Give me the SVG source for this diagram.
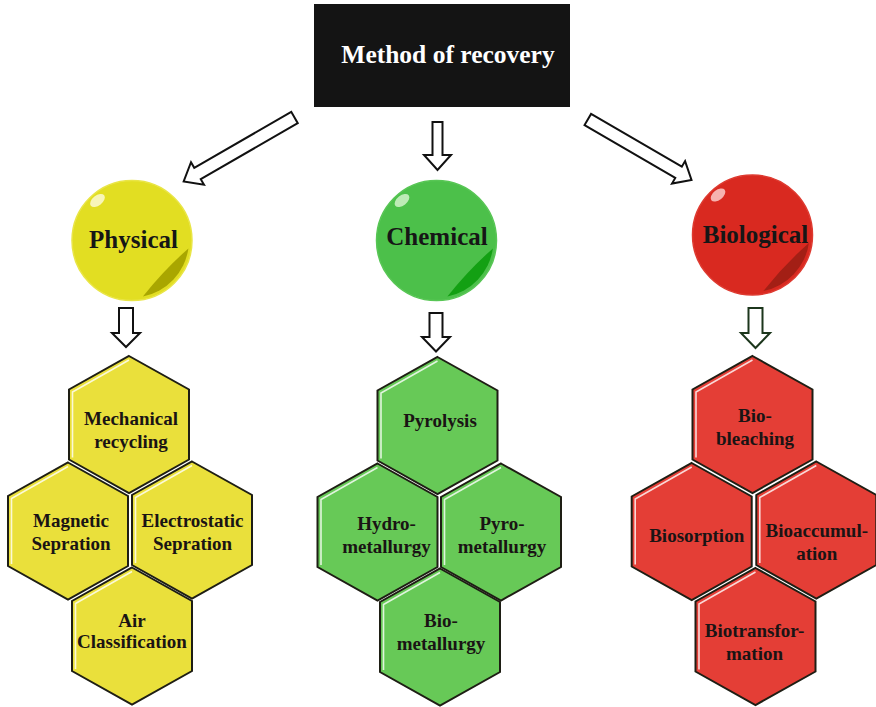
<svg xmlns="http://www.w3.org/2000/svg" width="876" height="707" viewBox="0 0 876 707">
  <style>
    .title { font-family: "Liberation Serif", "Times New Roman", serif; font-weight: bold; font-size: 25.5px; fill: #ffffff; text-anchor: middle; }
    .ball { font-family: "Liberation Serif", "Times New Roman", serif; font-weight: bold; font-size: 25px; fill: #161616; text-anchor: middle; }
    .lbl { font-family: "Liberation Serif", "Times New Roman", serif; font-weight: bold; font-size: 19px; fill: #1a1414; text-anchor: middle; }
    .arrow { fill: #ffffff; stroke: #111111; stroke-width: 2; stroke-linejoin: miter; }
    .hex { stroke: #1e1e14; stroke-width: 2; stroke-linejoin: miter; }
    .shine { fill: none; stroke: #ffffff; stroke-width: 1.6; stroke-opacity: 0.8; }
    .yel { fill: #EAE03B; }
    .grn { fill: #67C957; }
    .red { fill: #E43E36; }
  </style>
  <defs>
    <!-- pointy-top hexagon cell with a glossy edge on its upper-left -->
    <polygon id="hexShape" points="0,-68.5 60,-35 60,35 0,68.5 -60,35 -60,-35"/>
    <polyline id="hexShine" points="-56.5,33 -56.5,-32.5 0,-64.5"/>
    <!-- sphere gloss: small highlight and a crescent shade on the lower-right rim -->
    <ellipse id="gloss" cx="-34.5" cy="-40" rx="8.5" ry="5" transform="rotate(-38 -34.5 -40)"/>
    <path id="shade" d="M56.4,7.9 A57.5,57.5 0 0 1 10.9,56 Q31.5,29.9 56.4,7.9Z"/>
  </defs>

  <rect width="876" height="707" fill="#ffffff"/>

  <!-- root -->
  <g id="root">
    <rect x="314" y="4" width="256" height="103" fill="#141414"/>
    <text class="title" x="448" y="63">Method of recovery</text>
  </g>

  <!-- connectors -->
  <g id="connectors">
    <polygon class="arrow" transform="translate(294.5,117.5) rotate(150)" points="0,-6.5 112,-6.5 112,-13 128,0 112,13 112,6.5 0,6.5"/>
    <polygon class="arrow" points="432.5,122 442.5,122 442.5,155 451,155 437.5,170 424,155 432.5,155"/>
    <polygon class="arrow" transform="translate(587.8,119.5) rotate(30.2)" points="0,-6.5 105,-6.5 105,-13 120,0 105,13 105,6.5 0,6.5"/>
    <polygon class="arrow" points="119,308 133,308 133,333 140,333 126,347 112,333 119,333"/>
    <polygon class="arrow" points="429.5,313 442.5,313 442.5,337 450,337 436,351.5 422,337 429.5,337"/>
    <polygon class="arrow" style="stroke:#1c361c" points="748.5,308 762.5,308 762.5,333 770,333 755.5,348 741,333 748.5,333"/>
  </g>

  <!-- category spheres -->
  <g id="physical">
    <g transform="translate(132,240.5)">
      <circle r="60" fill="#E2DE22" stroke="#E9E546" stroke-width="1.5"/>
      <use href="#gloss" fill="#F8F5B8"/>
      <use href="#shade" fill="#A9A600"/>
    </g>
    <text class="ball" x="133.5" y="248">Physical</text>
  </g>
  <g id="chemical">
    <g transform="translate(436.5,240.5)">
      <circle r="60" fill="#4CC04A" stroke="#58C655" stroke-width="1.5"/>
      <use href="#gloss" fill="#BDEBB6"/>
      <use href="#shade" fill="#13A013"/>
    </g>
    <text class="ball" x="437" y="245">Chemical</text>
  </g>
  <g id="biological">
    <g transform="translate(752.5,235)">
      <circle r="60" fill="#D92920" stroke="#DE3A30" stroke-width="1.5"/>
      <use href="#gloss" fill="#F6B3B0"/>
      <use href="#shade" fill="#A31F15"/>
    </g>
    <text class="ball" x="755.5" y="243">Biological</text>
  </g>

  <!-- physical methods -->
  <g id="mechanical-recycling" transform="translate(129,424.5)">
    <use href="#hexShape" class="hex yel"/><use href="#hexShine" class="shine"/>
    <text class="lbl" x="2" y="0.5">Mechanical</text>
    <text class="lbl" x="2" y="23.5">recycling</text>
  </g>
  <g id="magnetic-sepration" transform="translate(68,531)">
    <use href="#hexShape" class="hex yel"/><use href="#hexShine" class="shine"/>
    <text class="lbl" x="3" y="-4">Magnetic</text>
    <text class="lbl" x="3" y="19">Sepration</text>
  </g>
  <g id="electrostatic-sepration" transform="translate(192,530)">
    <use href="#hexShape" class="hex yel"/><use href="#hexShine" class="shine"/>
    <text class="lbl" x="0.5" y="-3">Electrostatic</text>
    <text class="lbl" x="0.5" y="20">Sepration</text>
  </g>
  <g id="air-classification" transform="translate(132,636)">
    <use href="#hexShape" class="hex yel"/><use href="#hexShine" class="shine"/>
    <text class="lbl" x="0" y="-9">Air</text>
    <text class="lbl" x="0" y="11.5">Classification</text>
  </g>

  <!-- chemical methods -->
  <g id="pyrolysis" transform="translate(437.5,425.5)">
    <use href="#hexShape" class="hex grn"/><use href="#hexShine" class="shine"/>
    <text class="lbl" x="2.5" y="1.5">Pyrolysis</text>
  </g>
  <g id="hydrometallurgy" transform="translate(377.5,532)">
    <use href="#hexShape" class="hex grn"/><use href="#hexShine" class="shine"/>
    <text class="lbl" x="9" y="-2">Hydro-</text>
    <text class="lbl" x="9" y="20.5">metallurgy</text>
  </g>
  <g id="pyrometallurgy" transform="translate(501,532)">
    <use href="#hexShape" class="hex grn"/><use href="#hexShine" class="shine"/>
    <text class="lbl" x="1" y="-2">Pyro-</text>
    <text class="lbl" x="1" y="20.5">metallurgy</text>
  </g>
  <g id="biometallurgy" transform="translate(440,637)">
    <use href="#hexShape" class="hex grn"/><use href="#hexShine" class="shine"/>
    <text class="lbl" x="1" y="-10">Bio-</text>
    <text class="lbl" x="1" y="13">metallurgy</text>
  </g>

  <!-- biological methods -->
  <g id="biobleaching" transform="translate(752.5,424.5)">
    <use href="#hexShape" class="hex red"/><use href="#hexShine" class="shine"/>
    <text class="lbl" x="2.5" y="-2.5">Bio-</text>
    <text class="lbl" x="2.5" y="20">bleaching</text>
  </g>
  <g id="biosorption" transform="translate(691.7,531.5)">
    <use href="#hexShape" class="hex red"/><use href="#hexShine" class="shine"/>
    <text class="lbl" x="5" y="10.5">Biosorption</text>
  </g>
  <g id="bioaccumulation" transform="translate(816.3,530)">
    <use href="#hexShape" class="hex red"/><use href="#hexShine" class="shine"/>
    <text class="lbl" x="0.5" y="7">Bioaccumul-</text>
    <text class="lbl" x="0.5" y="30">ation</text>
  </g>
  <g id="biotransformation" transform="translate(755.5,636.5)">
    <use href="#hexShape" class="hex red"/><use href="#hexShine" class="shine"/>
    <text class="lbl" x="-1" y="0.5">Biotransfor-</text>
    <text class="lbl" x="-1" y="23">mation</text>
  </g>
</svg>
